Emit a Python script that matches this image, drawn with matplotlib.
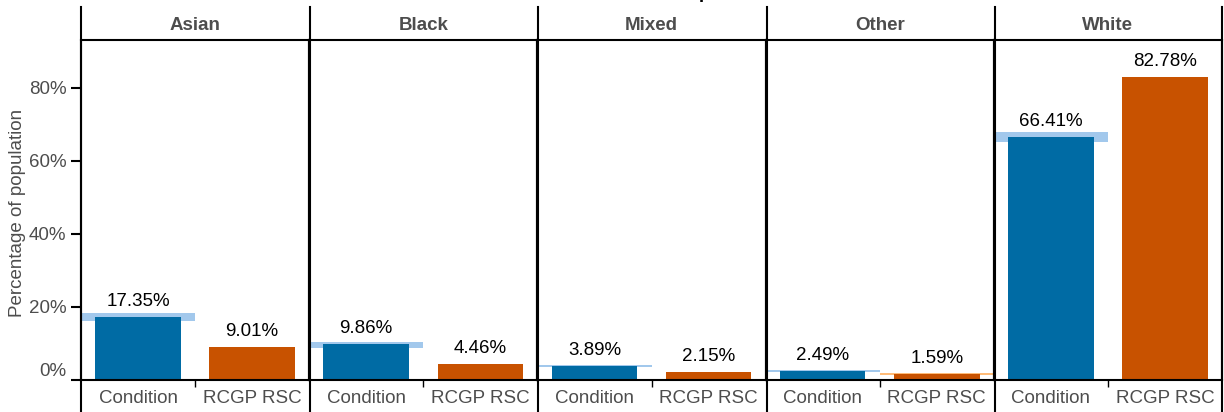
import matplotlib
matplotlib.use("Agg")
import matplotlib.pyplot as plt
from matplotlib.lines import Line2D

plt.rcParams['font.family'] = ['Liberation Sans', 'DejaVu Sans']

groups = ["Asian", "Black", "Mixed", "Other", "White"]
sources = ["Condition", "RCGP RSC"]
condition = [17.35, 9.86, 3.89, 2.49, 66.41]
rcgp = [9.01, 4.46, 2.15, 1.59, 82.78]
# interval bands drawn behind the bars (None = not visible)
cond_lo = [16.2, 8.8, 3.6, 2.3, 65.2]
cond_hi = [18.4, 10.5, 4.1, 2.7, 67.7]
rcgp_lo = [8.9, None, None, 1.45, None]
rcgp_hi = [9.15, None, None, 1.8, None]
yticks = [0, 20, 40, 60, 80]

bar_cols = ["#006BA4", "#C85200"]
band_cols = ["#A2C8EC", "#FFBC79"]
grey = "#4d4d4d"
fs = 13.5

W, H = 1224, 412
fig, axes = plt.subplots(1, 5, figsize=(W / 100, H / 100), dpi=100, sharey=True)
fig.subplots_adjust(left=81 / W, right=1222 / W, bottom=(H - 380) / H,
                    top=(H - 40) / H, wspace=0)

for i, ax in enumerate(axes):
    vals = [condition[i], rcgp[i]]
    los = [cond_lo[i], rcgp_lo[i]]
    his = [cond_hi[i], rcgp_hi[i]]
    for j in range(2):
        if los[j] is not None:
            ax.bar(j, his[j] - los[j], bottom=los[j], width=1.0,
                   color=band_cols[j], linewidth=0, zorder=1)
        ax.bar(j, vals[j], width=0.75, color=bar_cols[j], linewidth=0, zorder=2)
        ax.annotate(f"{vals[j]:.2f}%", (j, vals[j]), xytext=(0, 5),
                    textcoords="offset points", ha="center", va="bottom",
                    fontsize=fs, color="black", zorder=3)
    ax.set_xlim(-0.5, 1.5)
    ax.set_ylim(0, 93)
    ax.set_xticks([0.5])
    ax.set_xticklabels([""])
    ax.set_xticks([0, 1], minor=True)
    ax.set_xticklabels(sources, minor=True, fontsize=fs, color=grey)
    ax.tick_params(axis="x", which="major", length=5, width=1, color="black")
    ax.tick_params(axis="x", which="minor", length=0, pad=7)
    for s in ax.spines.values():
        s.set_linewidth(1.5)
        s.set_color("black")
    ax.set_title(groups[i], fontsize=fs, fontweight="bold", color=grey, pad=7)
    if i > 0:
        ax.tick_params(axis="y", left=False)

ax0 = axes[0]
ax0.set_yticks(yticks)
ax0.set_yticklabels([f"{t}%" for t in yticks], fontsize=fs, color=grey)
ax0.tick_params(axis="y", length=7, width=1.5, color="black")
ax0.get_yticklabels()[0].set_verticalalignment("bottom")
ax0.set_ylabel("Percentage of population", fontsize=fs, color=grey)
ax0.yaxis.set_label_coords((17.5 - 81) / 228.2, (380 - 213) / 340)
ax0.yaxis.label.set_verticalalignment("center")

# panel separators running through strip and tick-label area
for x in [81, 310, 538, 767, 995, 1222]:
    fig.add_artist(Line2D([x / W, x / W], [0, (H - 7) / H], color="black",
                          linewidth=1.5, transform=fig.transFigure))

fig.text(651 / W, 1 + 2 / H, "Ethnic Group", ha="center", va="baseline",
         fontsize=fs, fontweight="bold", color="black")

fig.savefig("out.png", dpi=100)
